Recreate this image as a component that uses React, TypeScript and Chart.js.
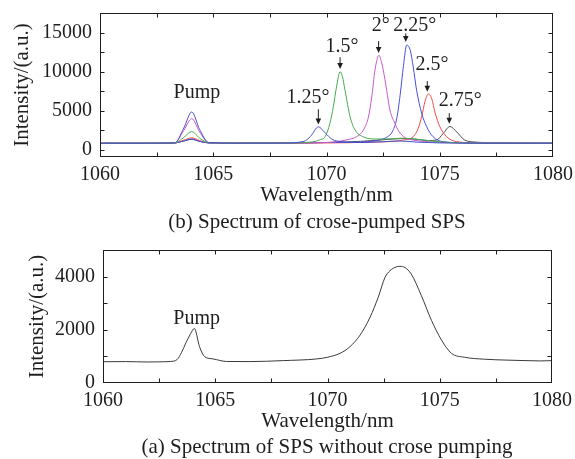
import React, { useEffect, useRef } from 'react';
import { Chart, registerables } from 'chart.js';

Chart.register(...registerables);

// ---------- tick values ----------
const xTickLabels = [1060, 1065, 1070, 1075, 1080];
const xMinorTicks = [1062.5, 1065, 1067.5, 1070, 1072.5, 1075, 1077.5];
const topYTickLabels = [0, 5000, 10000, 15000];
const topYMinorTicks = [0, 2500, 5000, 7500, 10000, 12500, 15000];
const bottomYTickLabels = [0, 2000, 4000];
const bottomYMinorTicks = [1000, 2000, 3000, 4000];

// ---------- (b) spectra of cross-pumped SPS ----------
const wl125 = [1060, 1062, 1063.3, 1063.7, 1064.05, 1064.4, 1064.8, 1066, 1068, 1069.0, 1069.3, 1069.64, 1069.95, 1070.25, 1070.7, 1071.5, 1072.5, 1073.2, 1074, 1075, 1077, 1080];
const int125 = [860, 860, 900, 2800, 4850, 2600, 950, 870, 880, 1100, 1750, 2950, 2150, 1350, 1050, 950, 1050, 1150, 1000, 900, 860, 860];

const wl150 = [1060, 1062, 1063.3, 1063.7, 1064.05, 1064.4, 1064.8, 1066, 1068, 1069.3, 1069.7, 1069.95, 1070.15, 1070.3, 1070.45, 1070.6, 1070.7, 1070.82, 1071.04, 1071.26, 1071.6, 1072.2, 1072.8, 1073.3, 1073.9, 1074.6, 1075.5, 1077, 1080];
const int150 = [860, 860, 900, 1600, 2350, 1500, 930, 870, 880, 1000, 1300, 1750, 3400, 5500, 8200, 10000, 9400, 7600, 4250, 2550, 1700, 1400, 1400, 1500, 1400, 1150, 950, 870, 860];

const wl200 = [1060, 1062, 1063.3, 1063.7, 1064.05, 1064.4, 1064.8, 1066, 1068, 1070, 1070.9, 1071.33, 1071.63, 1071.85, 1072.0, 1072.14, 1072.32, 1072.42, 1072.5, 1072.66, 1072.8, 1073.02, 1073.15, 1073.4, 1073.83, 1074.5, 1075.5, 1077, 1080];
const int200 = [860, 860, 900, 2500, 4000, 2300, 940, 870, 880, 950, 1300, 1700, 2550, 4200, 6800, 10200, 12100, 11300, 10300, 7600, 5100, 3400, 2600, 1700, 1270, 1050, 930, 870, 860];

const wl225 = [1060, 1062, 1063.3, 1063.7, 1064.05, 1064.4, 1064.8, 1066, 1068, 1070, 1071.8, 1072.36, 1072.7, 1072.9, 1073.1, 1073.25, 1073.4, 1073.54, 1073.7, 1073.83, 1073.98, 1074.2, 1074.42, 1074.7, 1075.15, 1076, 1077.5, 1080];
const int225 = [860, 860, 900, 1150, 1400, 1100, 900, 870, 880, 950, 1060, 1300, 1700, 2300, 4000, 7000, 10800, 13400, 12700, 10600, 7600, 4700, 3000, 1700, 1060, 930, 870, 860];

const wl250 = [1060, 1062, 1063.3, 1063.7, 1064.05, 1064.4, 1064.8, 1066, 1068, 1070, 1072, 1073.4, 1073.83, 1074.05, 1074.2, 1074.35, 1074.5, 1074.64, 1074.8, 1075.0, 1075.3, 1075.75, 1076.5, 1078, 1080];
const int250 = [860, 860, 900, 1250, 1550, 1200, 910, 870, 880, 900, 1000, 1270, 1700, 2760, 4250, 6200, 7150, 6600, 4700, 3000, 1700, 1060, 920, 870, 860];

const wl275 = [1060, 1062, 1063.3, 1063.7, 1064.05, 1064.4, 1064.8, 1066, 1068, 1070, 1071.5, 1072.5, 1073.3, 1074.0, 1074.5, 1074.86, 1075.15, 1075.45, 1075.75, 1076.1, 1076.6, 1077.5, 1080];
const int275 = [860, 860, 900, 1150, 1350, 1100, 900, 870, 880, 950, 1100, 1300, 1450, 1350, 1200, 1270, 2100, 3000, 2300, 1270, 1000, 900, 860];

const topSeriesNames = ['1.25°', '1.5°', '2°', '2.25°', '2.5°', '2.75°'];
const topSeriesColors = ['#4650c8', '#46aa50', '#c858c8', '#4650dc', '#f04a4a', '#4a4a4a'];

// annotations of (b)
const topLabelText = ['Pump', '1.25°', '1.5°', '2°', '2.25°', '2.5°', '2.75°'];
const topLabelWl = [1064.28, 1069.18, 1070.68, 1072.4, 1073.9, 1074.66, 1075.9];
const topLabelInt = [7260, 6620, 13250, 15900, 15900, 10950, 6240];
const topArrowWl = [1069.64, 1070.6, 1072.3, 1073.5, 1074.45, 1075.42];
const topArrowTip = [3250, 10350, 12400, 13800, 7450, 3350];
const topArrowTail = [5200, 11850, 13900, 14900, 8800, 4700];

// ---------- (a) spectrum of SPS without cross pumping ----------
const wlSingle = [1060, 1061, 1062, 1062.5, 1063, 1063.3, 1063.5, 1063.7, 1063.9, 1064.07, 1064.3, 1064.53, 1064.9, 1065.5, 1066.55, 1068.03, 1069.52, 1070.0, 1070.56, 1071.0, 1071.45, 1071.9, 1072.26, 1072.56, 1072.78, 1073.08, 1073.23, 1073.45, 1073.73, 1074.18, 1074.63, 1075.08, 1075.52, 1076.1, 1077.0, 1078.0, 1078.8, 1079.5, 1080];
const intSingle = [800, 805, 790, 795, 810, 880, 1150, 1520, 1850, 2048, 1363, 990, 906, 810, 805, 842, 905, 968, 1117, 1363, 1800, 2480, 3225, 3970, 4220, 4370, 4385, 4340, 4097, 3288, 2357, 1612, 1117, 968, 894, 860, 842, 830, 840];

const bottomLabelText = ['Pump'];
const bottomLabelWl = [1064.17];
const bottomLabelInt = [2430];

// ---------- styling ----------
const FONT = "'Liberation Serif', 'Times New Roman', serif";
const INK = '#1e1e1e';

const framePlugin = {
  id: 'frame',
  afterDatasetsDraw(chart: any, _args: any, opts: any) {
    const { ctx, chartArea: a, scales } = chart;
    const L = 4;
    ctx.save();
    ctx.strokeStyle = INK;
    ctx.lineWidth = 1;
    const l = Math.round(a.left) + 0.5;
    const r = Math.round(a.right) - 0.5;
    const t = Math.round(a.top) + 0.5;
    const b = Math.round(a.bottom) - 0.5;
    ctx.strokeRect(l, t, r - l, b - t);
    ctx.beginPath();
    for (const v of opts.xTicks) {
      const px = Math.round(scales.x.getPixelForValue(v)) + 0.5;
      ctx.moveTo(px, b); ctx.lineTo(px, b - L);
      ctx.moveTo(px, t); ctx.lineTo(px, t + L);
    }
    for (const v of opts.yTicks) {
      const py = Math.round(scales.y.getPixelForValue(v)) + 0.5;
      ctx.moveTo(l, py); ctx.lineTo(l + L, py);
      ctx.moveTo(r, py); ctx.lineTo(r - L, py);
    }
    ctx.stroke();

    // labels
    ctx.fillStyle = INK;
    ctx.font = `20px ${FONT}`;
    ctx.textAlign = 'center';
    ctx.textBaseline = 'middle';
    (opts.labels.text as string[]).forEach((txt, i) => {
      ctx.fillText(txt, scales.x.getPixelForValue(opts.labels.x[i]), scales.y.getPixelForValue(opts.labels.y[i]));
    });
    // arrows
    if (opts.arrows) {
      (opts.arrows.x as number[]).forEach((xv, i) => {
        const px = scales.x.getPixelForValue(xv);
        const tip = scales.y.getPixelForValue(opts.arrows.tip[i]);
        const tail = scales.y.getPixelForValue(opts.arrows.tail[i]);
        ctx.beginPath();
        ctx.moveTo(px, tail);
        ctx.lineTo(px, tip - 5);
        ctx.stroke();
        ctx.beginPath();
        ctx.moveTo(px - 2.8, tip - 6);
        ctx.lineTo(px + 2.8, tip - 6);
        ctx.lineTo(px, tip);
        ctx.closePath();
        ctx.fill();
      });
    }
    ctx.restore();
  },
};

function makeConfig(p: {
  datasets: any[];
  yMin: number; yMax: number; yLabels: number[]; yMinor: number[];
  padTop: number; padRight: number; yWidth: number; xHeight: number;
  yTitlePad: number; xTitlePad: number;
  labels: any; arrows?: any;
}) {
  return {
    type: 'line',
    data: { datasets: p.datasets },
    options: {
      animation: false,
      responsive: false,
      events: [],
      layout: { padding: { top: p.padTop, right: p.padRight, left: 0, bottom: 0 } },
      plugins: {
        legend: { display: false },
        tooltip: { enabled: false },
        frame: { xTicks: xMinorTicks, yTicks: p.yMinor, labels: p.labels, arrows: p.arrows },
      },
      scales: {
        x: {
          type: 'linear',
          min: 1060,
          max: 1080,
          afterBuildTicks: (s: any) => { s.ticks = xTickLabels.map((v) => ({ value: v })); },
          afterFit: (s: any) => { s.height = p.xHeight; s.paddingLeft = 0; s.paddingRight = 0; },
          grid: { display: false, drawTicks: false },
          border: { display: false },
          ticks: {
            autoSkip: false, maxRotation: 0, padding: 6, color: INK,
            font: { family: FONT, size: 20 },
            callback: (v: any) => String(v),
          },
          title: {
            display: true, text: 'Wavelength/nm', color: INK,
            font: { family: FONT, size: 21 },
            padding: { top: 0, bottom: p.xTitlePad },
          },
        },
        y: {
          type: 'linear',
          min: p.yMin,
          max: p.yMax,
          afterBuildTicks: (s: any) => { s.ticks = p.yLabels.map((v) => ({ value: v })); },
          afterFit: (s: any) => { s.width = p.yWidth; s.paddingTop = 0; s.paddingBottom = 0; },
          grid: { display: false, drawTicks: false },
          border: { display: false },
          ticks: {
            autoSkip: false, padding: 8, color: INK,
            font: { family: FONT, size: 20 },
            callback: (v: any) => String(v),
          },
          title: {
            display: true, text: 'Intensity/(a.u.)', color: INK,
            font: { family: FONT, size: 21 },
            padding: { top: p.yTitlePad, bottom: 0 },
          },
        },
      },
    },
    plugins: [framePlugin],
  } as any;
}

function line(wl: number[], vals: number[], color: string, label: string) {
  return {
    label,
    data: wl.map((x, i) => ({ x, y: vals[i] })),
    borderColor: color,
    borderWidth: 1,
    pointRadius: 0,
    fill: false,
    cubicInterpolationMode: 'monotone',
  };
}

export default function App() {
  const topRef = useRef<HTMLCanvasElement>(null);
  const botRef = useRef<HTMLCanvasElement>(null);

  useEffect(() => {
    const topWl = [wl125, wl150, wl200, wl225, wl250, wl275];
    const topInt = [int125, int150, int200, int225, int250, int275];
    const topChart = new Chart(topRef.current as HTMLCanvasElement, makeConfig({
      datasets: topWl.map((w, i) => line(w, topInt[i], topSeriesColors[i], topSeriesNames[i])),
      yMin: -900, yMax: 17500, yLabels: topYTickLabels, yMinor: topYMinorTicks,
      padTop: 13, padRight: 22, yWidth: 100, xHeight: 75,
      yTitlePad: 10, xTitlePad: 24,
      labels: { text: topLabelText, x: topLabelWl, y: topLabelInt },
      arrows: { x: topArrowWl, tip: topArrowTip, tail: topArrowTail },
    }));
    const botChart = new Chart(botRef.current as HTMLCanvasElement, makeConfig({
      datasets: [line(wlSingle, intSingle, '#3a3a3a', 'SPS')],
      yMin: 0, yMax: 5000, yLabels: bottomYTickLabels, yMinor: bottomYMinorTicks,
      padTop: 14, padRight: 23, yWidth: 103, xHeight: 76,
      yTitlePad: 25, xTitlePad: 25,
      labels: { text: bottomLabelText, x: bottomLabelWl, y: bottomLabelInt },
    }));
    return () => { topChart.destroy(); botChart.destroy(); };
  }, []);

  const cap: React.CSSProperties = {
    position: 'absolute', whiteSpace: 'nowrap', transform: 'translateX(-50%)',
    fontFamily: FONT, fontSize: 21, lineHeight: '24px', color: INK,
  };

  return (
    <div style={{ position: 'absolute', left: 0, top: 0, width: 575, height: 459, background: '#fff', overflow: 'hidden' }}>
      <canvas ref={topRef} width={575} height={232} style={{ position: 'absolute', left: 0, top: 0, width: 575, height: 232 }} />
      <canvas ref={botRef} width={575} height={223} style={{ position: 'absolute', left: 0, top: 236, width: 575, height: 223 }} />
      <div style={{ ...cap, left: 317, top: 209 }}>(b) Spectrum of crose-pumped SPS</div>
      <div style={{ ...cap, left: 327, top: 434 }}>(a) Spectrum of SPS without crose pumping</div>
    </div>
  );
}
